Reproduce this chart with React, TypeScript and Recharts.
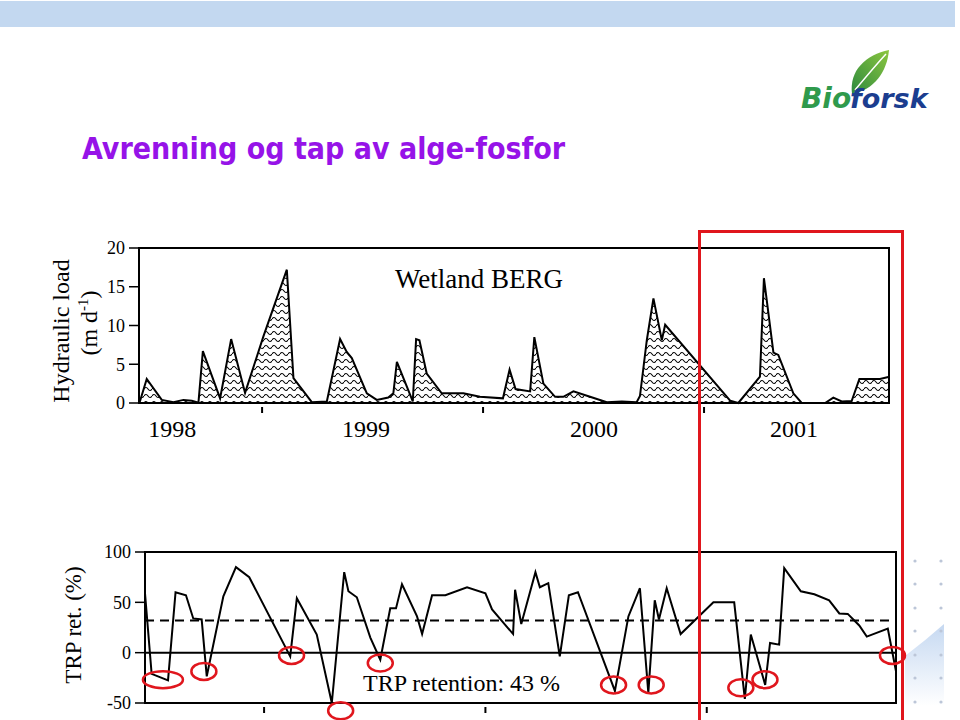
import React from 'react';
import {
  AreaChart,
  Area,
  ComposedChart,
  Line,
  XAxis,
  YAxis,
  ReferenceArea,
  ReferenceLine,
  ReferenceDot,
} from 'recharts';

// hydraulic load (m d-1), time as decimal year
const loadTime = [
  1998.445, 1998.478, 1998.546, 1998.599, 1998.644, 1998.682, 1998.712, 1998.732, 1998.81, 1998.86,
  1998.923, 1999.006, 1999.112, 1999.142, 1999.225, 1999.293, 1999.353, 1999.383, 1999.406, 1999.474,
  1999.519, 1999.571, 1999.594, 1999.61, 1999.682, 1999.697, 1999.712, 1999.745, 1999.813, 1999.911,
  1999.986, 2000.09, 2000.12, 2000.147, 2000.213, 2000.232, 2000.273, 2000.326, 2000.363, 2000.409,
  2000.484, 2000.56, 2000.628, 2000.695, 2000.71, 2000.741, 2000.771, 2000.809, 2000.824, 2001.118,
  2001.155, 2001.253, 2001.271, 2001.314, 2001.336, 2001.404, 2001.442, 2001.548, 2001.585, 2001.623,
  2001.668, 2001.703, 2001.796, 2001.834,
];
const loadValue = [
  0, 3.1, 0.4, 0.1, 0.4, 0.3, 0.05, 6.7, 0.6, 8.25,
  1.3, 8.6, 17.2, 3.2, 0.1, 0.2, 8.25, 6.6, 5.8, 1.25,
  0.4, 0.7, 1.25, 5.3, 0.2, 8.25, 8.1, 3.8, 1.25, 1.25,
  0.8, 0.6, 4.3, 1.8, 1.5, 8.5, 2.5, 0.8, 0.8, 1.5,
  0.8, 0.1, 0.2, 0.1, 0.9, 8.1, 13.5, 8.1, 10.1, 0.3,
  0, 3.4, 16.1, 6.5, 6.2, 1.25, 0, 0, 0.7, 0.2,
  0.25, 3.1, 3.1, 3.35,
];

// TRP retention (%)
const trpTime = [
  1998.462, 1998.492, 1998.566, 1998.6, 1998.647, 1998.68, 1998.718, 1998.741, 1998.816, 1998.873,
  1998.933, 1999.118, 1999.148, 1999.238, 1999.306, 1999.362, 1999.381, 1999.419, 1999.48, 1999.525,
  1999.57, 1999.596, 1999.623, 1999.691, 1999.714, 1999.759, 1999.819, 1999.917, 2000.0, 2000.03,
  2000.125, 2000.134, 2000.162, 2000.226, 2000.246, 2000.284, 2000.336, 2000.377, 2000.418, 2000.585,
  2000.646, 2000.698, 2000.736, 2000.765, 2000.784, 2000.819, 2000.882, 2001.03, 2001.124, 2001.172,
  2001.199, 2001.264, 2001.286, 2001.327, 2001.35, 2001.425, 2001.486, 2001.553, 2001.599, 2001.637,
  2001.689, 2001.723, 2001.818, 2001.855,
];
const trpValue = [
  59, -21, -27.5, 60, 57, 34, 33, -23.5, 56, 85,
  75, -3.7, 54, 18, -50, 80, 61, 55, 15, -7,
  44, 44, 68, 36, 18.5, 57, 57, 65, 59, 43,
  18.5, 62.5, 28.5, 80, 65, 69, -3.7, 57, 60, -38,
  36, 64, -40, 52, 33, 64, 18.5, 50, 50, -46,
  18, -32, 9.6, 8, 84, 61, 58, 52, 39, 38.5,
  27, 16, 24, -18.5,
];
const trpMean = 32;

// red circles marking negative retention
const circledTime = [1998.543, 1998.728, 1999.124, 1999.346, 1999.525, 2000.579, 2000.749, 2001.154, 2001.263, 2001.839];
const circledValue = [-26.8, -18.6, -2.7, -57.6, -10.2, -32, -32, -34.8, -26.8, -2.7];

const yearTicks = [1999, 2000, 2001];
const yearLabels = ['1998', '1999', '2000', '2001'];
const yearLabelAt = [1998.593, 1999.47, 2000.502, 2001.407];

const loadTicks = [0, 5, 10, 15, 20];
const trpTicks = [-50, 0, 50, 100];
const loadDomain = [1998.443, 2001.837];
const trpDomain = [1998.462, 2001.855];

const loadData = loadTime.map((t, i) => ({ t, v: loadValue[i] }));
const trpData = trpTime.map((t, i) => ({ t, v: trpValue[i] }));

const serif = "'Liberation Serif', 'Times New Roman', serif";
const RED = '#e0161d';

function TickMark(props: any) {
  const { x, y } = props;
  return <line x1={x} x2={x} y1={y + 4} y2={y + 10} stroke="#000" strokeWidth={2} />;
}

function YearLabel(props: any) {
  const { x, y, payload } = props;
  const i = yearLabelAt.indexOf(payload.value);
  return (
    <text x={x} y={y + 33} textAnchor="middle" fontSize={24} fontFamily={serif} fill="#000">
      {yearLabels[i]}
    </text>
  );
}

const yTick = { fontSize: 18, fill: '#000', fontFamily: serif };

function Decor() {
  const dotsX = [915, 941];
  const dotsY = [561, 584, 608, 631, 655, 678, 702];
  return (
    <svg width={960} height={720} style={{ position: 'absolute', left: 0, top: 0 }}>
      <defs>
        <linearGradient id="leaf" x1="0" y1="1" x2="1" y2="0">
          <stop offset="0%" stopColor="#2d8a3e" />
          <stop offset="100%" stopColor="#8cc63f" />
        </linearGradient>
        <linearGradient id="corner" x1="0" y1="0" x2="0" y2="1">
          <stop offset="0%" stopColor="#b7cfee" />
          <stop offset="100%" stopColor="#ffffff" />
        </linearGradient>
      </defs>
      <rect x={0} y={1} width={955} height={26} fill="#c3d8f0" />
      <text
        x={82}
        y={159}
        fontSize={30}
        fontWeight="bold"
        fill="#9613e8"
        fontFamily="'DejaVu Sans Condensed', 'DejaVu Sans', sans-serif"
        style={{ fontStretch: 'condensed' }}
      >
        Avrenning og tap av alge-fosfor
      </text>
      {/* logo */}
      <path d="M852 94 C 849 70, 866 55, 889 50 C 887 72, 874 90, 852 94 Z" fill="url(#leaf)" />
      <path d="M855 90 C 865 78, 875 66, 886 54" stroke="#fff" strokeWidth={1.5} fill="none" />
      <text x={801} y={108} fontSize={28} fontWeight="bold" fontStyle="italic" fill="#2f9a4c" fontFamily="'DejaVu Sans', sans-serif">
        Bio
      </text>
      <text x={850} y={108} fontSize={27} fontWeight="bold" fontStyle="italic" fill="#1b3d8f" fontFamily="'DejaVu Sans', sans-serif">
        forsk
      </text>
      {/* corner decoration */}
      <path d="M905 656 Q926 640 944 624 L944 706 L905 706 Z" fill="url(#corner)" opacity={0.8} />
      {dotsX.map((x) => dotsY.map((y) => <circle key={`${x}-${y}`} cx={x} cy={y} r={1.6} fill="#bcc6d8" />))}
      {/* axis titles */}
      <text transform="translate(69 331) rotate(-90)" textAnchor="middle" fontSize={24} fontFamily={serif} fill="#000">
        Hydraulic load
      </text>
      <text transform="translate(97 323) rotate(-90)" textAnchor="middle" fontSize={24} fontFamily={serif} fill="#000">
        (m d<tspan dy={-9} fontSize={15}>-1</tspan>
        <tspan dy={9}>)</tspan>
      </text>
      <text transform="translate(81 625) rotate(-90)" textAnchor="middle" fontSize={23} fontFamily={serif} fill="#000">
        TRP ret.  (%)
      </text>
    </svg>
  );
}

function LoadChart() {
  return (
    <div style={{ position: 'absolute', left: 0, top: 0 }}>
      <AreaChart width={960} height={720} data={loadData} margin={{ top: 248, right: 71, bottom: 315, left: 99 }}>
        <defs>
          <pattern id="wave" width="8" height="7" patternUnits="userSpaceOnUse">
            <rect width="8" height="7" fill="#fff" />
            <path d="M0 4 Q2 1 4 4 T8 4" stroke="#000" strokeWidth={1.1} fill="none" />
          </pattern>
        </defs>
        <XAxis
          dataKey="t"
          type="number"
          domain={loadDomain}
          ticks={yearTicks}
          interval={0}
          height={1}
          axisLine={false}
          tickLine={false}
          tickSize={0}
          tickMargin={0}
          tick={<TickMark />}
        />
        <XAxis
          xAxisId="yr"
          dataKey="t"
          type="number"
          domain={loadDomain}
          ticks={yearLabelAt}
          interval={0}
          height={1}
          axisLine={false}
          tickLine={false}
          tickSize={0}
          tickMargin={0}
          tick={<YearLabel />}
        />
        <YAxis
          domain={[0, 20]}
          ticks={loadTicks}
          width={40}
          axisLine={false}
          tickSize={10}
          tickMargin={4}
          tickLine={{ stroke: '#000', strokeWidth: 1.5 }}
          tick={yTick}
        />
        <Area
          type="linear"
          dataKey="v"
          stroke="#000"
          strokeWidth={2}
          fill="url(#wave)"
          fillOpacity={1}
          isAnimationActive={false}
        />
        <ReferenceArea
          x1={loadDomain[0]}
          x2={loadDomain[1]}
          y1={0}
          y2={20}
          fill="none"
          stroke="#000"
          strokeWidth={2}
          ifOverflow="visible"
        />
      </AreaChart>
    </div>
  );
}

function Circle(props: any) {
  const { cx, cy, wide } = props;
  return <ellipse cx={cx} cy={cy} rx={wide ? 20 : 12.5} ry={8.5} fill="none" stroke={RED} strokeWidth={2.5} />;
}

function TrpChart() {
  return (
    <div style={{ position: 'absolute', left: 0, top: 0 }}>
      <ComposedChart width={960} height={720} data={trpData} margin={{ top: 552, right: 64, bottom: 16, left: 105 }}>
        <XAxis
          dataKey="t"
          type="number"
          domain={trpDomain}
          ticks={yearTicks}
          interval={0}
          height={1}
          axisLine={false}
          tickLine={false}
          tickSize={0}
          tickMargin={0}
          tick={<TickMark />}
        />
        <YAxis
          domain={[-50, 100]}
          ticks={trpTicks}
          width={40}
          axisLine={false}
          tickSize={10}
          tickMargin={4}
          tickLine={{ stroke: '#000', strokeWidth: 1.5 }}
          tick={yTick}
        />
        <ReferenceLine y={0} stroke="#000" strokeWidth={2} />
        <ReferenceLine y={trpMean} stroke="#000" strokeWidth={2} strokeDasharray="9 6" />
        <Line type="linear" dataKey="v" stroke="#000" strokeWidth={2} dot={false} isAnimationActive={false} />
        <ReferenceArea
          x1={trpDomain[0]}
          x2={trpDomain[1]}
          y1={-50}
          y2={100}
          fill="none"
          stroke="#000"
          strokeWidth={2}
          ifOverflow="visible"
        />
        {circledTime.map((t, i) => (
          <ReferenceDot
            key={t}
            x={t}
            y={circledValue[i]}
            ifOverflow="visible"
            shape={(p: any) => <Circle {...p} wide={i === 0} />}
          />
        ))}
      </ComposedChart>
    </div>
  );
}

function Overlay() {
  return (
    <svg width={960} height={720} style={{ position: 'absolute', left: 0, top: 0, pointerEvents: 'none' }}>
      <text x={395} y={288} fontSize={27} fontFamily={serif} fill="#000">
        Wetland BERG
      </text>
      <text x={363} y={691} fontSize={24} fontFamily={serif} fill="#000">
        TRP retention: 43 %
      </text>
      <rect x={699.5} y={231.5} width={203} height={495} fill="none" stroke={RED} strokeWidth={3} />
    </svg>
  );
}

export default function App() {
  return (
    <div style={{ position: 'absolute', left: 0, top: 0, width: 960, height: 720, background: '#fff', overflow: 'hidden' }}>
      <Decor />
      <LoadChart />
      <TrpChart />
      <Overlay />
    </div>
  );
}
